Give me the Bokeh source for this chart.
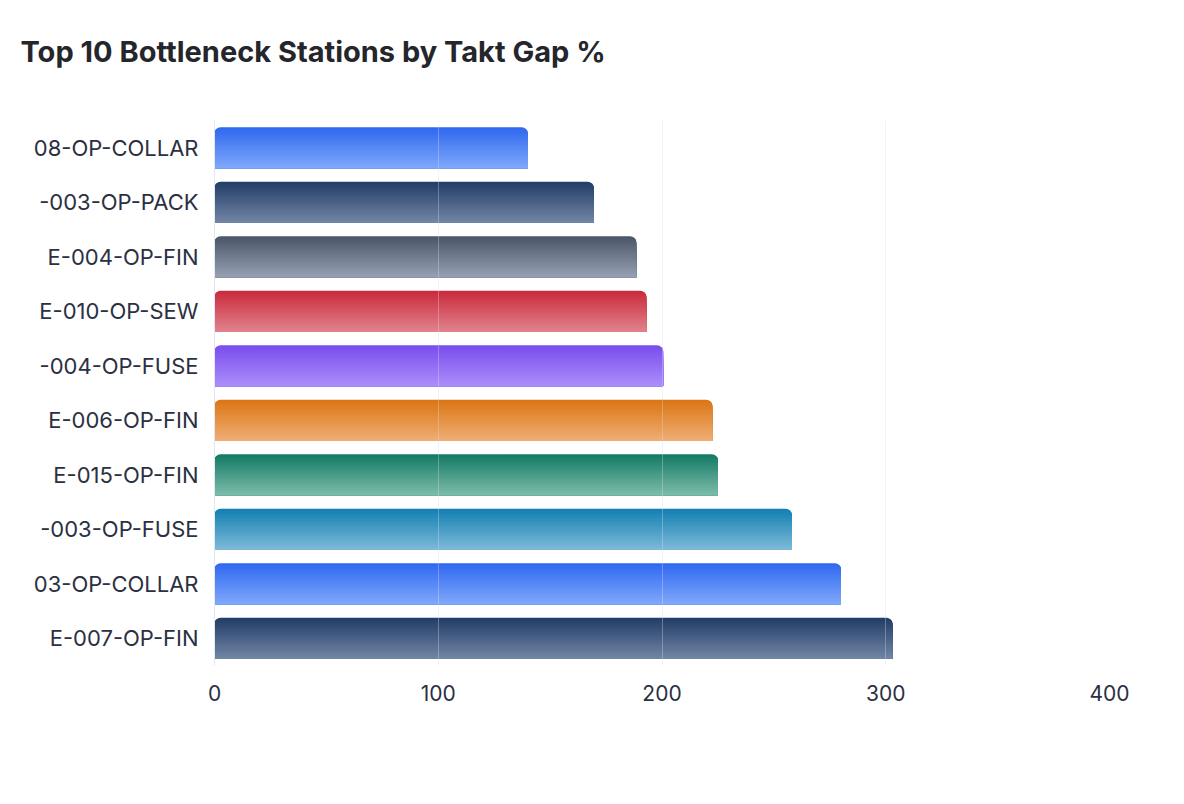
from bokeh.plotting import figure
from bokeh.models import FactorRange, Range1d, FixedTicker, Title
from bokeh.transform import dodge
from bokeh.embed import file_html
from bokeh.resources import INLINE

# ---- data ----
title_text = "Top 10 Bottleneck Stations by Takt Gap %"
stations = ["08-OP-COLLAR", "-003-OP-PACK", "E-004-OP-FIN", "E-010-OP-SEW", "-004-OP-FUSE",
            "E-006-OP-FIN", "E-015-OP-FIN", "-003-OP-FUSE", "03-OP-COLLAR", "E-007-OP-FIN"]
takt_gap = [140, 169.5, 188.5, 193, 200.5, 222.5, 225, 258, 280, 303]
x_ticks = [0, 100, 200, 300, 400]

# ---- palette (top -> bottom gradient colours per bar) ----
top_colors = ["#2e68ef", "#213c66", "#4a5568", "#c92a3b", "#7a4ded",
              "#db7514", "#127a65", "#127fb1", "#2e68ef", "#213c66"]
bottom_colors = ["#80a8fb", "#7387a6", "#97a1b3", "#e1838d", "#ab8efb",
                 "#efae75", "#7ebcaa", "#7fbad9", "#80a8fb", "#7387a6"]


def hex2rgb(h):
    h = h.lstrip("#")
    return tuple(int(h[i:i + 2], 16) for i in (0, 2, 4))


def mix(c1, c2, t):
    a, b = hex2rgb(c1), hex2rgb(c2)
    return "#%02x%02x%02x" % tuple(round(a[i] + (b[i] - a[i]) * t) for i in range(3))


p = figure(
    width=1168, height=788,
    y_range=FactorRange(factors=stations[::-1]),
    x_range=Range1d(0, 400),
    output_backend="svg", toolbar_location=None,
    min_border_left=214, min_border_right=59, min_border_top=120, min_border_bottom=123,
    title=title_text,
)
p.outline_line_color = None
p.background_fill_color = "white"
p.border_fill_color = "white"

p.title.text_font = "Inter"
p.title.text_font_size = "29px"
p.title.text_font_style = "bold"
p.title.text_color = "#25262b"
p.title.offset = -194
p.title.standoff = 20

# invisible spacer between the title and the plot frame
spacer = Title(text=" ", text_font_size="1px", standoff=39, text_color="white")
p.add_layout(spacer, "above")

bar_h = 0.75
band_px = 54.7
radius_px = 6
n_layers = 24
top_off = bar_h / 2
for k in range(n_layers):
    d = bar_h * k / n_layers
    t = (k + 0.5) / n_layers
    cols = [mix(a, b, t) for a, b in zip(top_colors, bottom_colors)]
    h = bar_h - d
    center = top_off - d - h / 2
    r = int(max(0, round(radius_px - d * band_px)))
    p.hbar(
        y=dodge("station", center, range=p.y_range),
        left=0, right="gap", height=h,
        fill_color="color", line_color=None,
        border_radius=(r, r, 0, 0),
        source=dict(station=stations, gap=takt_gap, color=cols),
    )

p.xgrid.ticker = FixedTicker(ticks=x_ticks)
p.xgrid.grid_line_color = "#dcdde8"
p.xgrid.grid_line_alpha = 0.35
p.xgrid.level = "overlay"
p.ygrid.grid_line_color = None

p.xaxis.ticker = FixedTicker(ticks=x_ticks)
p.xaxis.axis_line_color = None
p.xaxis.major_tick_line_color = None
p.xaxis.minor_tick_line_color = None
p.xaxis.major_label_text_font = "Inter"
p.xaxis.major_label_text_font_size = "21px"
p.xaxis.major_label_text_color = "#2b3042"
p.xaxis.major_label_standoff = 13

p.yaxis.axis_line_color = "#e2e7f1"
p.yaxis.major_tick_line_color = None
p.yaxis.minor_tick_line_color = None
p.yaxis.major_label_text_font = "Inter"
p.yaxis.major_label_text_font_size = "22px"
p.yaxis.major_label_text_color = "#2b3042"
p.yaxis.major_label_standoff = 10

open("out.html", "w").write(file_html(p, INLINE))
